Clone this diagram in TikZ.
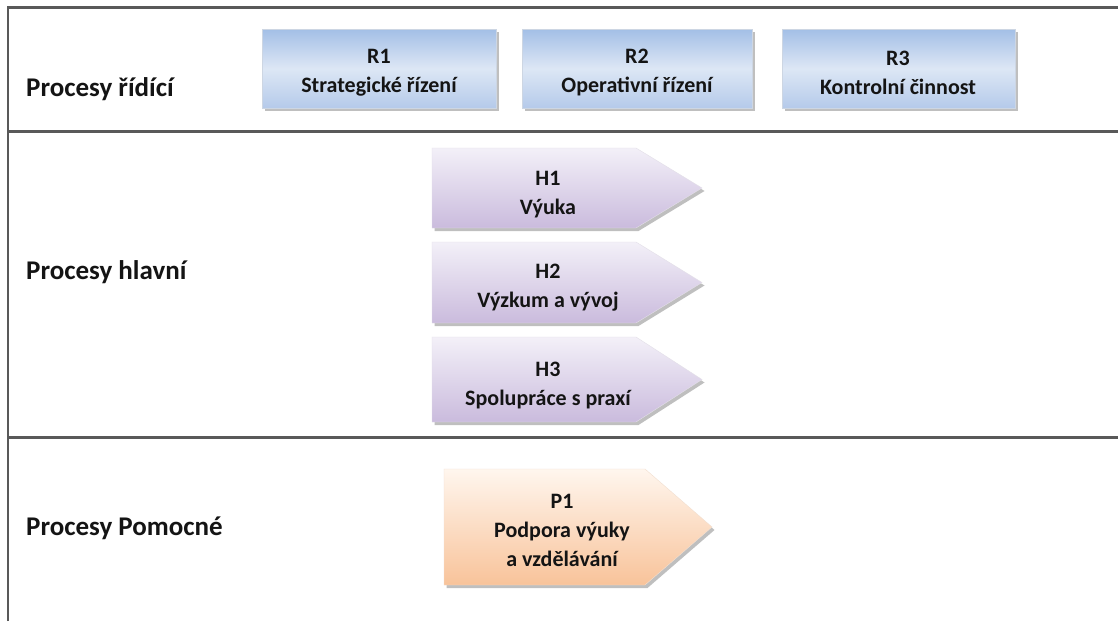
\documentclass[tikz,border=0pt]{standalone}
\usepackage{fontspec}
\setmainfont{Carlito}
\usetikzlibrary{shadows}
\definecolor{rule}{HTML}{595959}
\definecolor{rtop}{HTML}{A3BFE6}
\definecolor{rmid}{HTML}{DDE7F5}
\definecolor{rbot}{HTML}{B5CAEA}
\definecolor{htop}{HTML}{F3F0F8}
\definecolor{hbot}{HTML}{CABBDD}
\definecolor{ptop}{HTML}{FFF6EE}
\definecolor{pbot}{HTML}{F8C39A}
\definecolor{ink}{HTML}{141414}
\begin{document}
\begin{tikzpicture}[x=1pt,y=-1pt,
  sep/.style={draw=rule,line width=2.4pt},
  lane/.style={anchor=west,inner sep=0pt,font=\fontsize{27}{30}\selectfont\bfseries,text=ink},
  boxtext/.style={align=center,font=\fontsize{22}{29}\selectfont\bfseries,text=ink},
  shadowed/.style={drop shadow={shadow xshift=2.5pt,shadow yshift=-3pt,opacity=.45,fill=black!55}},
  rbox/.style={shadowed,top color=rtop,bottom color=rbot,middle color=rmid,draw=rtop!80!black!40,line width=.4pt},
  hbox/.style={shadowed,top color=htop,bottom color=hbot,draw=hbot!80!black!30,line width=.4pt},
  pbox/.style={shadowed,top color=ptop,bottom color=pbot,draw=pbot!90!black!40,line width=.4pt}
]
\useasboundingbox (0,0) rectangle (1118,621);
\fill[white] (0,0) rectangle (1118,621);

% lane frame
\draw[sep] (8,621) -- (8,7.5) -- (1118,7.5);
\draw[sep] (8,131.5) -- (1118,131.5);
\draw[sep] (8,437.5) -- (1118,437.5);

% lane titles
\node[lane] (l1) at (26,89) {Procesy řídící};
\node[lane] (l2) at (26,272) {Procesy hlavní};
\node[lane] (l3) at (26,528) {Procesy Pomocné};

% management processes
\path[rbox] (262,29) rectangle (496,108);
\node[boxtext] (r1) at (379,73) {R1\\Strategické řízení};
\path[rbox] (522,29) rectangle (752,108);
\node[boxtext] (r2) at (637,73) {R2\\Operativní řízení};
\path[rbox] (782,29) rectangle (1015,108);
\node[boxtext] (r3) at (898,73) {R3\\Kontrolní činnost};

% main processes
\path[hbox] (432,148) -- (636,148) -- (702,188) -- (636,228) -- (432,228) -- cycle;
\node[boxtext] (h1) at (548,195) {H1\\Výuka};
\path[hbox] (432,242) -- (636,242) -- (702,282.5) -- (636,323) -- (432,323) -- cycle;
\node[boxtext] (h2) at (548,288) {H2\\Výzkum a vývoj};
\path[hbox] (432,337) -- (636,337) -- (702,379.5) -- (636,422) -- (432,422) -- cycle;
\node[boxtext] (h3) at (548,386) {H3\\Spolupráce s praxí};

% support processes
\path[pbox] (444,469) -- (645,469) -- (712,527) -- (645,585) -- (444,585) -- cycle;
\node[boxtext] (p1) at (562,530) {P1\\Podpora výuky\\a vzdělávání};
\end{tikzpicture}
\end{document}
